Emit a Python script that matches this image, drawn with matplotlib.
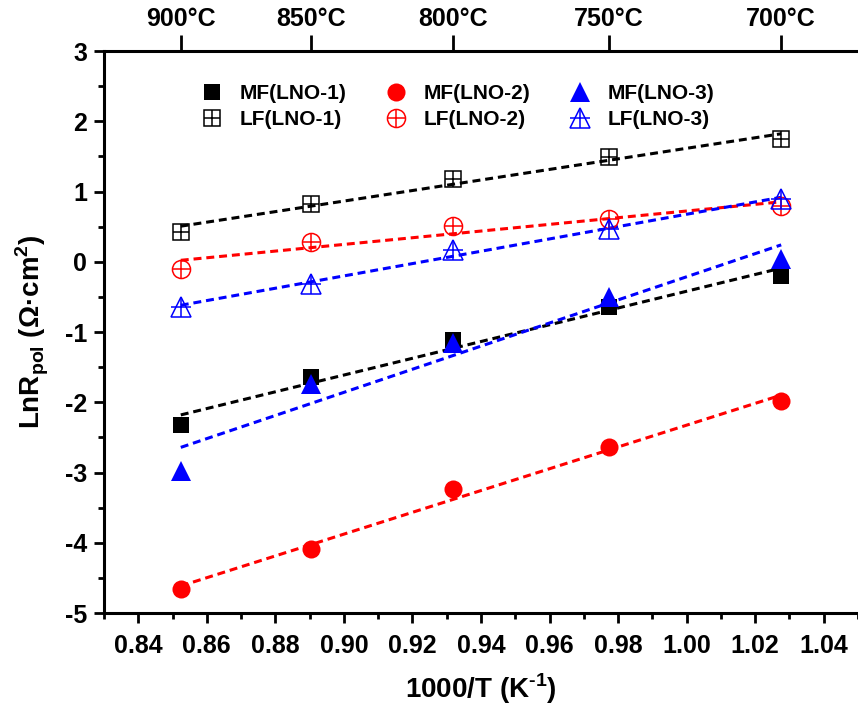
import numpy as np
import matplotlib
matplotlib.use("Agg")
import matplotlib.pyplot as plt
from matplotlib.legend_handler import HandlerTuple

plt.rcParams['font.family'] = ['Liberation Sans', 'DejaVu Sans']
plt.rcParams['font.weight'] = 'bold'
plt.rcParams['axes.unicode_minus'] = False
plt.rcParams['mathtext.fontset'] = 'custom'
plt.rcParams['mathtext.bf'] = 'Liberation Sans:bold'
plt.rcParams['mathtext.rm'] = 'Liberation Sans'

# temperatures (deg C) and 1000/T
temps_c = np.array([900, 850, 800, 750, 700])
inv_t = 1000.0 / (temps_c + 273.15)

mf_lno1 = [-2.33, -1.64, -1.11, -0.64, -0.20]
mf_lno2 = [-4.66, -4.09, -3.23, -2.64, -1.98]
mf_lno3 = [-2.98, -1.74, -1.16, -0.50, 0.04]
lf_lno1 = [0.43, 0.82, 1.18, 1.49, 1.75]
lf_lno2 = [-0.10, 0.28, 0.51, 0.61, 0.79]
lf_lno3 = [-0.64, -0.32, 0.17, 0.47, 0.89]

fig = plt.figure(figsize=(8.58, 7.09), dpi=100)
ax = fig.add_axes([0.1212, 0.1354, 0.8788, 0.7926])

dash = (0, (2.6, 1.6))
xfit = np.array([inv_t.min(), inv_t.max()])

handles = []
series = [
    (mf_lno1, 'k', 's', True, 'MF(LNO-1)', 12),
    (lf_lno1, 'k', 's', False, 'LF(LNO-1)', 12),
    (mf_lno2, 'r', 'o', True, 'MF(LNO-2)', 13),
    (lf_lno2, 'r', 'o', False, 'LF(LNO-2)', 13),
    (mf_lno3, 'b', '^', True, 'MF(LNO-3)', 14),
    (lf_lno3, 'b', '^', False, 'LF(LNO-3)', 14),
]
labels = []
for y, c, m, filled, lab, ms in series:
    p = np.polyfit(inv_t, y, 1)
    ax.plot(xfit, np.polyval(p, xfit), color=c, lw=2.2, linestyle=dash, zorder=2)
    if filled:
        h, = ax.plot(inv_t, y, linestyle='none', marker=m, color=c, ms=ms,
                     markeredgewidth=0, zorder=3)
        handles.append(h)
    else:
        h1, = ax.plot(inv_t, y, linestyle='none', marker=m, color=c, ms=ms,
                      mfc='none', mew=1.1, zorder=3)
        h2, = ax.plot(inv_t, y, linestyle='none', marker='+', color=c, ms=ms,
                      mew=1.1, zorder=3)
        handles.append((h1, h2))
    labels.append(lab)

ax.set_xlim(0.83, 1.05)
ax.set_ylim(-5, 3)
ax.set_xticks(np.arange(0.84, 1.041, 0.02))
ax.set_xticks(np.arange(0.83, 1.05, 0.01), minor=True)
ax.set_yticks(np.arange(-5, 3.1, 1))
ax.set_yticks(np.arange(-5, 3.1, 0.5), minor=True)
ax.set_xticklabels(['%.2f' % v for v in np.arange(0.84, 1.041, 0.02)])
ax.tick_params(which='major', direction='out', length=7, width=2, labelsize=18)
ax.tick_params(which='minor', direction='out', length=4, width=2)
ax.tick_params(axis='x', pad=8)
ax.tick_params(axis='y', right=False, pad=5)
for s in ['left', 'bottom', 'top']:
    ax.spines[s].set_linewidth(2.2)
ax.spines['right'].set_visible(False)

ax.set_xlabel('1000/T (K$^{\\mathbf{\u20101}}$)', fontsize=20, fontweight='bold', labelpad=10)
ax.set_ylabel('LnR$_{\\mathbf{pol}}$ (Ω·cm$^{\\mathbf{2}}$)', fontsize=20,
              fontweight='bold', labelpad=10)

top = ax.twiny()
top.set_xlim(ax.get_xlim())
top.set_xticks(inv_t)
top.set_xticklabels(['%d°C' % t for t in temps_c])
top.tick_params(direction='out', length=11.5, width=2, labelsize=18, pad=3)
top.xaxis.set_minor_locator(matplotlib.ticker.NullLocator())
for s in top.spines.values():
    s.set_visible(False)

ax.legend(handles, labels, ncol=3, loc='upper left', bbox_to_anchor=(0.105, 0.975),
          frameon=False, fontsize=15, handler_map={tuple: HandlerTuple(ndivide=1)},
          columnspacing=1.9, handletextpad=0.8, labelspacing=0.35, handlelength=1.0)

fig.savefig('out.png', dpi=100)
